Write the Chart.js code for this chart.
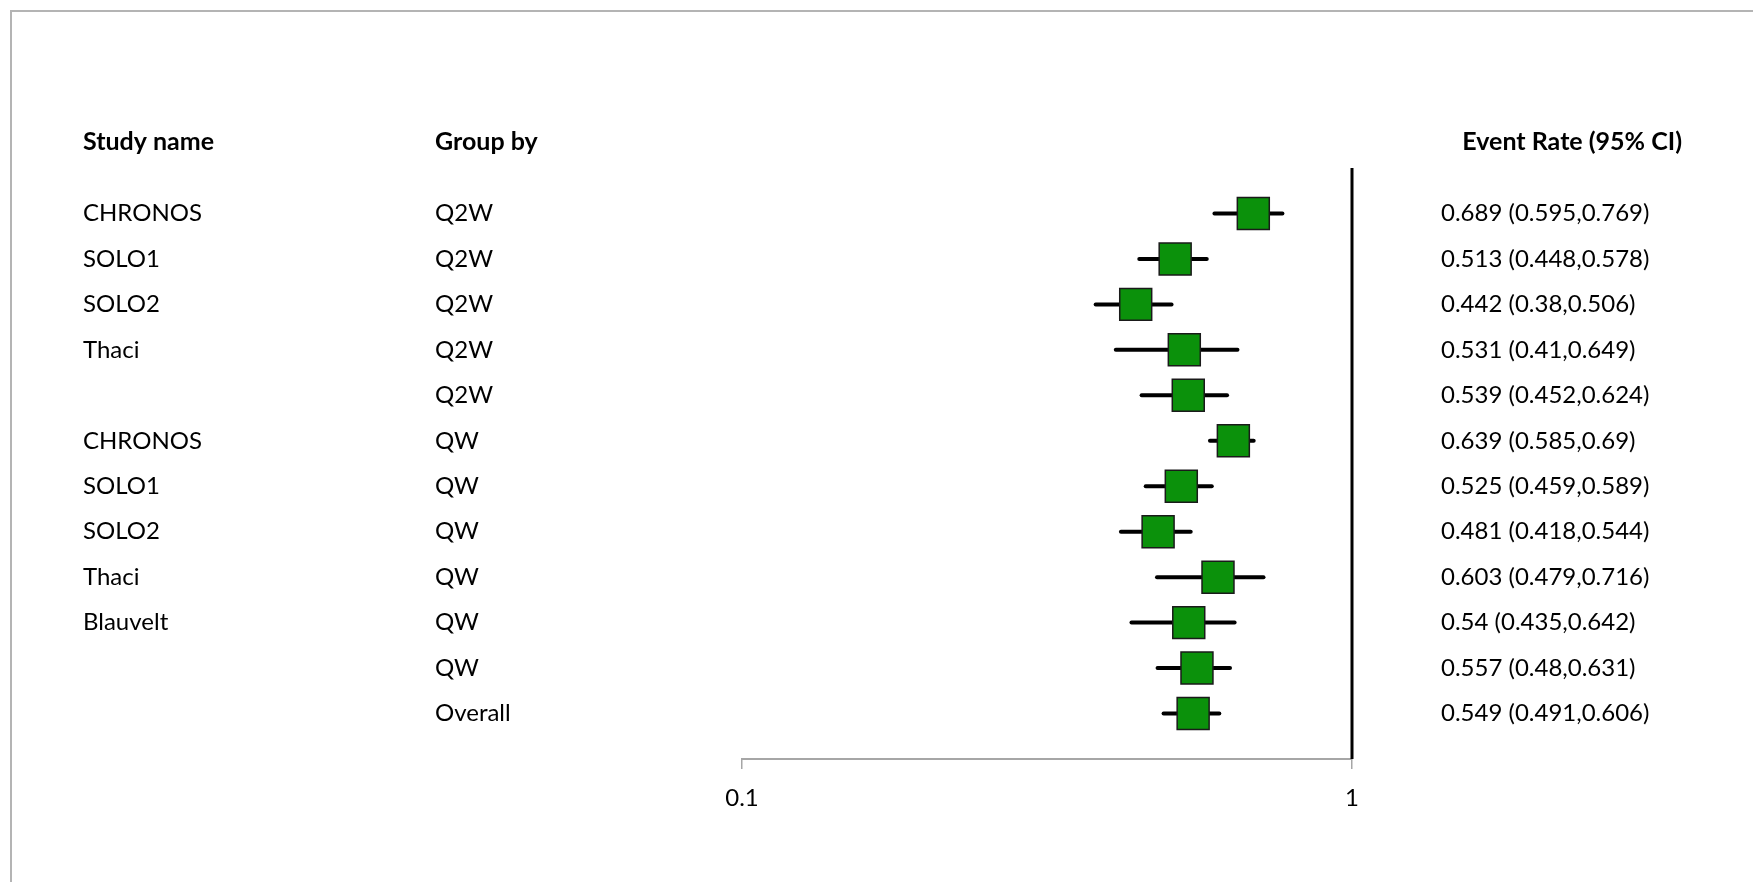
<!DOCTYPE html>
<html>
<head>
<meta charset="utf-8">
<title>Event rate forest plot</title>
<script src="https://cdn.jsdelivr.net/npm/chart.js@4.4.1/dist/chart.umd.min.js"></script>
<style>
  html, body { margin: 0; padding: 0; background: #fff; overflow: hidden; }
  #frame {
    position: absolute; left: 10px; top: 10px; width: 1900px; height: 1000px;
    border-left: 2px solid #b4b4b4; border-top: 2px solid #b4b4b4;
  }
  #wrap { position: absolute; left: 0; top: 0; width: 1753px; height: 882px; }
</style>
</head>
<body>
<div id="frame"></div>
<div id="wrap"><canvas id="chart" width="1753" height="882"></canvas></div>
<script>
// Rows, top to bottom
const studyNames = ['CHRONOS', 'SOLO1', 'SOLO2', 'Thaci', '', 'CHRONOS', 'SOLO1', 'SOLO2', 'Thaci', 'Blauvelt', '', ''];
const groups = ['Q2W', 'Q2W', 'Q2W', 'Q2W', 'Q2W', 'QW', 'QW', 'QW', 'QW', 'QW', 'QW', 'Overall'];
const eventRates = [0.689, 0.513, 0.442, 0.531, 0.539, 0.639, 0.525, 0.481, 0.603, 0.54, 0.557, 0.549];
const lowerCI = [0.595, 0.448, 0.38, 0.41, 0.452, 0.585, 0.459, 0.418, 0.479, 0.435, 0.48, 0.491];
const upperCI = [0.769, 0.578, 0.506, 0.649, 0.624, 0.69, 0.589, 0.544, 0.716, 0.642, 0.631, 0.606];
const xTicks = [0.1, 1];
const refValue = 1;

const FONT = 'Lato, "Noto Sans", sans-serif';
const TEXT_SIZE = 24;
const HEAD_SIZE = 25;

// y runs from one row above the first to one row below the last
const yMin = -1;
const yMax = studyNames.length;

const ciDatasets = eventRates.map((_, i) => ({
  type: 'line',
  data: [{ x: lowerCI[i], y: i }, { x: upperCI[i], y: i }],
  borderColor: '#000',
  borderWidth: 4,
  borderCapStyle: 'round',
  pointRadius: 0,
  clip: false,
  order: 2,
}));

const refLine = {
  type: 'line',
  data: [{ x: refValue, y: yMin }, { x: refValue, y: yMax }],
  borderColor: '#000',
  borderWidth: 3,
  pointRadius: 0,
  clip: false,
  order: 3,
};

const boxes = {
  type: 'scatter',
  data: eventRates.map((v, i) => ({ x: v, y: i })),
  pointStyle: 'rect',
  pointRadius: 22.6,
  pointHoverRadius: 22.6,
  backgroundColor: '#0b910b',
  borderColor: '#1a1a1a',
  borderWidth: 1.5,
  clip: false,
  order: 0,
};

// Table columns drawn beside the plot, lined up on the y scale
const tablePlugin = {
  id: 'tableText',
  afterDraw(chart) {
    const { ctx } = chart;
    const y = chart.scales.y;
    ctx.save();
    ctx.fillStyle = '#000';
    ctx.textBaseline = 'middle';

    const headY = y.getPixelForValue(0) - 72;
    ctx.font = `bold ${HEAD_SIZE}px ${FONT}`;
    ctx.textAlign = 'left';
    ctx.fillText('Study name', 83, headY);
    ctx.fillText('Group by', 435, headY);
    ctx.textAlign = 'right';
    ctx.fillText('Event Rate (95% CI)', 1682, headY);

    ctx.font = `${TEXT_SIZE}px ${FONT}`;
    ctx.textAlign = 'left';
    studyNames.forEach((name, i) => {
      const py = y.getPixelForValue(i);
      if (name) ctx.fillText(name, 83, py);
      ctx.fillText(groups[i], 435, py);
      ctx.fillText(`${eventRates[i]} (${lowerCI[i]},${upperCI[i]})`, 1441, py);
    });
    ctx.restore();
  },
};

new Chart(document.getElementById('chart'), {
  data: { datasets: [...ciDatasets, refLine, boxes] },
  options: {
    responsive: false,
    animation: false,
    devicePixelRatio: 1,
    layout: { padding: { left: 742, right: 401, top: 168, bottom: 0 } },
    plugins: { legend: { display: false }, tooltip: { enabled: false } },
    scales: {
      x: {
        type: 'logarithmic',
        min: 0.1,
        max: 1,
        afterBuildTicks: (scale) => { scale.ticks = xTicks.map((v) => ({ value: v })); },
        afterFit: (scale) => { scale.height = 123; },
        ticks: {
          callback: (v) => String(v),
          color: '#000',
          font: { family: FONT, size: TEXT_SIZE },
          padding: 15,
          maxRotation: 0,
        },
        grid: { drawOnChartArea: false, drawTicks: true, tickLength: 10, color: '#a6a6a6', lineWidth: 1.5 },
        border: { display: true, color: '#a6a6a6', width: 2 },
      },
      y: {
        type: 'linear',
        reverse: true,
        min: yMin,
        max: yMax,
        display: false,
      },
    },
  },
  plugins: [tablePlugin],
});
</script>
</body>
</html>
